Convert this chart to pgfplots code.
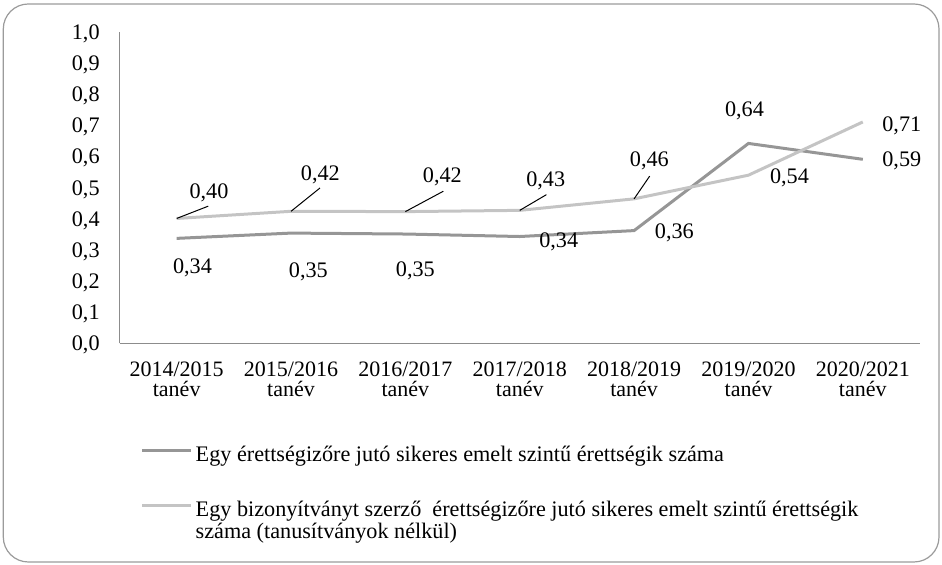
\documentclass[border=0pt]{standalone}
\usepackage{pgfplots}
\usepackage{pgfplotstable}
\pgfplotsset{compat=1.18}
\usepackage{fontspec}
\setmainfont{Liberation Serif}
\definecolor{darkser}{RGB}{150,150,150}
\definecolor{lightser}{RGB}{196,196,196}
\definecolor{axisgray}{RGB}{140,140,140}
\definecolor{framegray}{RGB}{155,155,155}

\pgfplotstableread{
x y dx up
0 0.337 15.8 -35
1 0.354 17.3 -44.4
2 0.351 10 -42.7
3 0.343 39 -10.7
4 0.362 40.3 -7.6
5 0.642 -4 26.6
6 0.591 39 -7.4
}\darkdata

\pgfplotstableread{
x y dx up
0 0.401 32.3 20
1 0.424 29.3 31
2 0.423 37 28.7
3 0.427 26 24
4 0.464 15.3 32
5 0.540 41 -8.3
6 0.711 39 -9.3
}\lightdata

\pgfplotstableread{
x y u v
0 0.401 0.276 0.0395
1 0.424 0.253 0.0748
2 0.423 0.332 0.0655
3 0.427 0.233 0.0504
4 0.464 0.136 0.0729
}\leaderdata

\begin{document}
\begin{tikzpicture}
\useasboundingbox (0,0) rectangle (471pt,282.5pt);
\draw[framegray, line width=0.6pt, rounded corners=12.5pt] (1.65pt,1.5pt) rectangle (469.5pt,280.5pt);
\begin{axis}[
  at={(59.75pt,110.85pt)}, anchor=south west,
  width=400.25pt, height=155.65pt, scale only axis,
  xmin=-0.5, xmax=6.5, ymin=0, ymax=1,
  axis x line=bottom, axis y line=left,
  axis line style={-, draw=axisgray, line width=0.5pt},
  xtick={0,1,2,3,4,5,6},
  xticklabels={{2014/2015\\tanév},{2015/2016\\tanév},{2016/2017\\tanév},{2017/2018\\tanév},{2018/2019\\tanév},{2019/2020\\tanév},{2020/2021\\tanév}},
  ytick={0,0.1,0.2,0.3,0.4,0.5,0.6,0.7,0.8,0.9,1.0},
  major tick length=0pt,
  /pgf/number format/assume math mode=true,
  yticklabel style={/pgf/number format/.cd, fixed, fixed zerofill, precision=1, use comma, assume math mode=true, /tikz/.cd, anchor=base east, inner sep=0pt, xshift=-9.75pt, yshift=-3.7pt, font=\fontsize{11.1}{13}\selectfont},
  xticklabel style={anchor=north, inner sep=0pt, yshift=-9pt, align=center, font=\fontsize{11}{10.2}\selectfont},
  clip=false,
  legend style={at={(axis description cs:0.026,-0.33)}, anchor=north west, draw=none, fill=none, inner sep=0pt, row sep=18pt, column sep=1.5pt, font=\fontsize{11.1}{11.1}\selectfont, nodes={inner sep=0pt}},
  legend cell align=left,
  legend image code/.code={\draw[#1] (0pt,2.5pt) -- (24.5pt,2.5pt);},
  every node near coord/.append style={/pgf/number format/.cd, fixed, fixed zerofill, precision=2, use comma, assume math mode=true, /tikz/.cd, anchor=base, inner sep=0pt, text=black, font=\fontsize{11.1}{13}\selectfont},
]
\addplot[darkser, line width=1.5pt, no markers,
  point meta=explicit, nodes near coords,
  visualization depends on={\thisrow{dx} \as \dx},
  visualization depends on={\thisrow{up} \as \up},
  every node near coord/.append style={xshift={0.5pt*(\dx)}, yshift={0.5pt*(\up)}}]
  table[x=x, y=y, meta=y] {\darkdata};
\addlegendentry{Egy érettségizőre jutó sikeres emelt szintű érettségik száma}
\addplot[lightser, line width=1.5pt, no markers,
  point meta=explicit, nodes near coords,
  visualization depends on={\thisrow{dx} \as \dx},
  visualization depends on={\thisrow{up} \as \up},
  every node near coord/.append style={xshift={0.5pt*(\dx)}, yshift={0.5pt*(\up)}}]
  table[x=x, y=y, meta=y] {\lightdata};
\addlegendentry{\parbox[t]{345pt}{Egy bizonyítványt szerző\ \ érettségizőre jutó sikeres emelt szintű érettségik\\száma (tanusítványok nélkül)}}
\addplot[black, line width=0.5pt, no markers, forget plot, quiver={u=\thisrow{u}, v=\thisrow{v}}]
  table[x=x, y=y] {\leaderdata};
\end{axis}
\end{tikzpicture}
\end{document}
